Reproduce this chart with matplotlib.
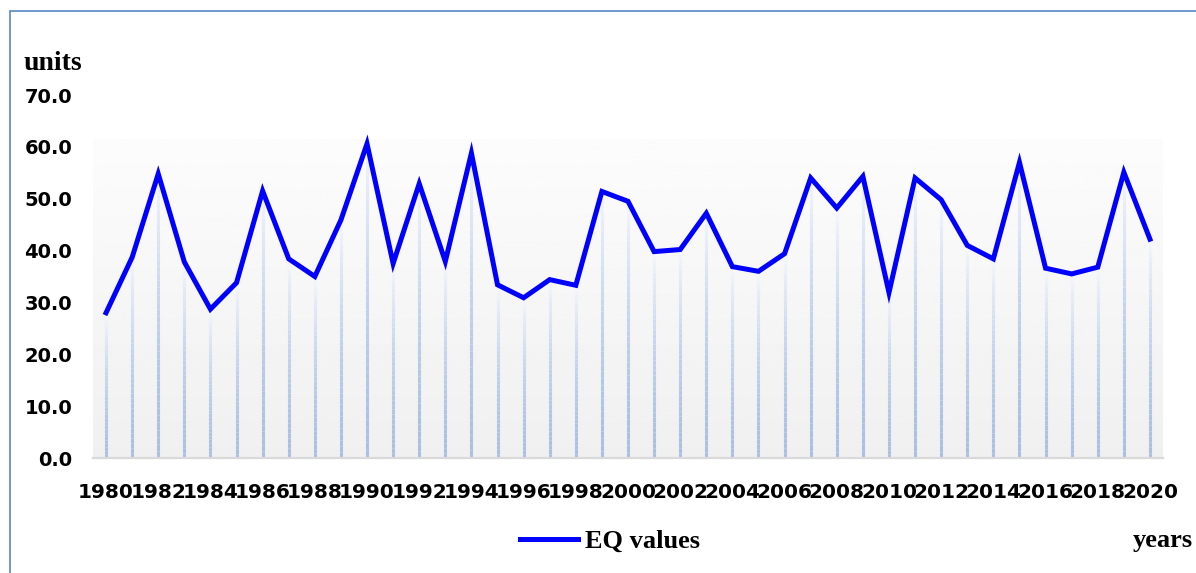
#!/usr/bin/env python3
"""
EQ values by year, with drop lines and a soft gradient plot area.
"""

import matplotlib
matplotlib.use("Agg")
import matplotlib.pyplot as plt
import numpy as np
from matplotlib.collections import LineCollection
from matplotlib.colors import to_rgb
from matplotlib.patches import Rectangle

YEARS = list(range(1980, 2021))
EQ_VALUES = [
    28.0, 38.7, 54.8, 37.8, 28.7, 33.8, 51.5, 38.4, 35.0, 45.9,
    60.6, 37.5, 52.9, 37.9, 58.8, 33.4, 30.9, 34.4, 33.3, 51.4,
    49.5, 39.8, 40.2, 47.2, 36.9, 36.0, 39.4, 54.0, 48.2, 54.3,
    31.9, 54.0, 49.8, 41.0, 38.4, 57.0, 36.6, 35.5, 36.8, 55.1,
    42.2,
]
Y_TICKS = [0, 10, 20, 30, 40, 50, 60, 70]

LINE_BLUE = "#0000ff"
DROP_TOP = "#f4f7fc"
DROP_BOTTOM = "#a9c0e3"
FRAME_BLUE = "#5a86c3"


def gradient_drop_lines(ax, xs, ys, n_seg=40):
    """Vertical lines from each point down to zero, fading white -> light blue."""
    top = np.array(to_rgb(DROP_TOP))
    bot = np.array(to_rgb(DROP_BOTTOM))
    segs, cols = [], []
    for x, y in zip(xs, ys):
        edges = np.linspace(0, y, n_seg + 1)
        for k in range(n_seg):
            segs.append([(x, edges[k]), (x, edges[k + 1])])
            t = ((k + 0.5) / n_seg) ** 1.6  # 0 bottom, 1 top
            cols.append(bot * (1 - t) + top * t)
    lc = LineCollection(segs, colors=cols, linewidths=2.2, capstyle="butt", zorder=2)
    ax.add_collection(lc)


def main() -> None:
    fig = plt.figure(figsize=(11.96, 5.73), dpi=100)
    ax = fig.add_axes([93 / 1196, 115 / 573, 1070 / 1196, 363 / 573])

    xs = np.arange(len(YEARS))
    ax.set_xlim(-0.5, len(YEARS) - 0.5)
    ax.set_ylim(0, 70)

    # plot area fill: near white at top to light grey at bottom
    grad = np.linspace(0.988, 0.94, 256).reshape(-1, 1)
    ax.imshow(grad, cmap="gray", vmin=0, vmax=1, aspect="auto",
              extent=(-0.5, len(YEARS) - 0.5, 0, 61.4), origin="upper", zorder=0)

    gradient_drop_lines(ax, xs, EQ_VALUES)
    ax.plot(xs, EQ_VALUES, color=LINE_BLUE, linewidth=3.6, solid_joinstyle="miter",
            zorder=3, label="EQ values")

    for side in ("top", "right", "left"):
        ax.spines[side].set_visible(False)
    ax.spines["bottom"].set_color("#d9d9d9")
    ax.spines["bottom"].set_linewidth(1.6)

    ax.set_yticks(Y_TICKS)
    ax.set_yticklabels([f"{v:.1f}" for v in Y_TICKS])
    ax.set_xticks(xs[::2])
    ax.set_xticklabels([str(y) for y in YEARS[::2]])
    ax.tick_params(axis="y", length=0, pad=15, labelsize=14)
    ax.tick_params(axis="x", length=0, pad=18, labelsize=14.5)
    for lbl in ax.get_xticklabels() + ax.get_yticklabels():
        lbl.set_fontweight("bold")

    serif = {"family": "Liberation Serif", "weight": "bold"}
    fig.text(53 / 1196, 1 - 63 / 573, "units", ha="center", va="center", size=20, **serif)
    fig.text(1193 / 1196, 1 - 540 / 573, "years", ha="right", va="center", size=19, **serif)

    fig.legend(loc="center", bbox_to_anchor=(610 / 1196, 1 - 541 / 573),
               frameon=False, borderpad=0, handlelength=2.2, handletextpad=0.28,
               prop={"family": "Liberation Serif", "weight": "bold", "size": 19})

    # thin outer frame along the left and top edges
    fig.patches.append(Rectangle((10 / 1196, -0.1), 1.2, 1 - 11 / 573 + 0.1,
                                 transform=fig.transFigure, fill=False,
                                 edgecolor=FRAME_BLUE, linewidth=1.2))

    fig.savefig("out.png", dpi=100)
    plt.close(fig)


if __name__ == "__main__":
    main()
